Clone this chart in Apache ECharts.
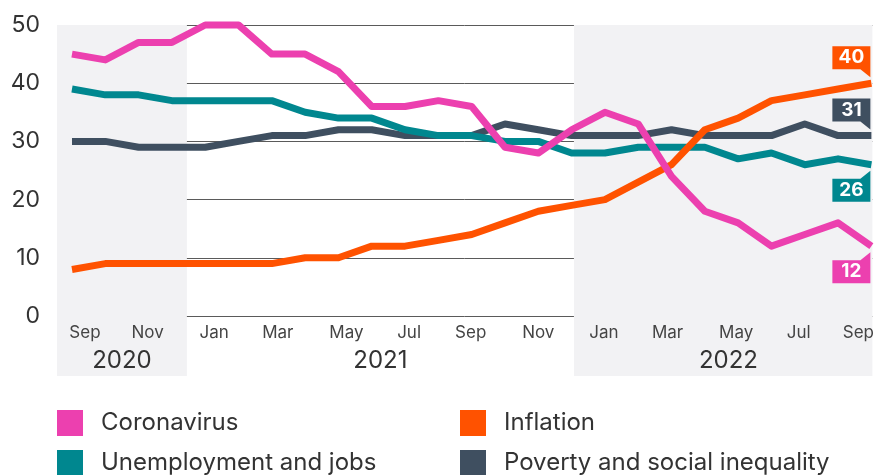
<!DOCTYPE html>
<html>
<head>
<meta charset="utf-8">
<script src="https://cdn.jsdelivr.net/npm/echarts@6/dist/echarts.min.js"></script>
<style>
  html, body { margin: 0; padding: 0; background: #ffffff; }
  #chart { width: 877px; height: 475px; }
</style>
</head>
<body>
<div id="chart"></div>
<script>
// Share of people naming each issue as a top worry, monthly survey waves
const coronavirus  = [45, 44, 47, 47, 50, 50, 45, 45, 42, 36, 36, 37, 36, 29, 28, 32, 35, 33, 24, 18, 16, 12, 14, 16, 12];
const inflation    = [8, 9, 9, 9, 9, 9, 9, 10, 10, 12, 12, 13, 14, 16, 18, 19, 20, 23, 26, 32, 34, 37, 38, 39, 40];
const unemployment = [39, 38, 38, 37, 37, 37, 37, 35, 34, 34, 32, 31, 31, 30, 30, 28, 28, 29, 29, 29, 27, 28, 26, 27, 26];
const poverty      = [30, 30, 29, 29, 29, 30, 31, 31, 32, 32, 31, 31, 31, 33, 32, 31, 31, 31, 32, 31, 31, 31, 33, 31, 31];

// Month ticks, in survey-wave units along the x axis
const monthLabels = ['Sep', 'Nov', 'Jan', 'Mar', 'May', 'Jul', 'Sep', 'Nov', 'Jan', 'Mar', 'May', 'Jul', 'Sep'];
const monthTickAt = [0.39, 2.27, 4.27, 6.18, 8.24, 10.12, 11.97, 14.0, 15.97, 17.88, 19.94, 21.82, 23.61];

// Calendar years and the waves they span (2020 and 2022 are shaded)
const yearLabels = ['2020', '2021', '2022'];
const yearSpans  = [[-0.45, 3.45], [3.45, 15.07], [15.07, 24.35]];
const shadedYears = [0, 2];

const yTicks = [0, 10, 20, 30, 40, 50];

const X_MIN = -0.45, X_MAX = 24.03;
// the value range runs below zero so the shaded year bands reach under the axis labels
const Y_MIN = -10.31, Y_MAX = 50;

const FONT = 'Inter, "Noto Sans", sans-serif';

const COLORS = {
  coronavirus: '#EC40AF',
  inflation: '#FF5200',
  unemployment: '#00878F',
  poverty: '#3F4F60'
};

const yearMid = yearSpans.map(s => (s[0] + s[1]) / 2);

function nearestLabel(value, positions, labels) {
  let best = 0;
  for (let i = 1; i < positions.length; i++) {
    if (Math.abs(positions[i] - value) < Math.abs(positions[best] - value)) best = i;
  }
  return labels[best];
}

// Callout shapes for the closing value: box with a small tail toward the line end
const CALLOUT_UP = 'path://M0,0 H38 V31 L28,23 H0 Z';
const CALLOUT_DOWN = 'path://M0,8 H28 L38,0 V31 H0 Z';

function endCallout(values, color, side) {
  const last = values.length - 1;
  const up = side === 'up';
  return {
    silent: true,
    animation: false,
    data: [{ coord: [last, values[last]], value: values[last] }],
    symbol: up ? CALLOUT_UP : CALLOUT_DOWN,
    symbolSize: [38, 31],
    symbolOffset: up ? [-20, -21.5] : [-20, 21.5],
    itemStyle: { color: color },
    label: {
      show: true,
      position: 'inside',
      offset: up ? [0, -4] : [0, 4],
      color: '#ffffff',
      fontFamily: FONT,
      fontWeight: 'bold',
      fontSize: 19,
      formatter: p => String(p.value)
    }
  };
}

function lineSeries(name, values, color, side, z) {
  return {
    name: name,
    type: 'line',
    z: z,
    data: values.map((v, i) => [i, v]),
    showSymbol: false,
    symbol: 'none',
    clip: false,
    animation: false,
    itemStyle: { color: color },
    lineStyle: { color: color, width: 7, join: 'round', cap: 'butt' },
    markPoint: endCallout(values, color, side)
  };
}

function legendItem(name, left, top) {
  return {
    left: left,
    top: top,
    padding: 0,
    icon: 'rect',
    itemWidth: 26,
    itemHeight: 26,
    selectedMode: false,
    data: [name],
    textStyle: { fontFamily: FONT, fontSize: 24, color: '#333333', padding: [0, 0, 0, 13] }
  };
}

const chart = echarts.init(document.getElementById('chart'), null, { renderer: 'canvas' });

chart.setOption({
  backgroundColor: '#ffffff',
  animation: false,
  grid: { left: 57, right: 0, top: 25, bottom: 99, containLabel: false },
  xAxis: [
    {
      // month names, drawn upward from the bottom of the band area
      type: 'value',
      z: 1,
      min: X_MIN,
      max: X_MAX,
      position: 'bottom',
      axisLine: { show: false, onZero: false },
      axisTick: { show: false },
      splitLine: { show: false },
      axisLabel: {
        inside: true,
        customValues: monthTickAt,
        margin: 35,
        fontFamily: FONT,
        fontSize: 17,
        color: '#444444',
        formatter: v => nearestLabel(v, monthTickAt, monthLabels)
      }
    },
    {
      // year names, centred in each year's span
      type: 'value',
      z: 1,
      min: X_MIN,
      max: X_MAX,
      position: 'bottom',
      axisLine: { show: false, onZero: false },
      axisTick: { show: false },
      splitLine: { show: false },
      axisLabel: {
        inside: true,
        customValues: yearMid,
        margin: 3,
        fontFamily: FONT,
        fontSize: 24,
        color: '#333333',
        formatter: v => nearestLabel(v, yearMid, yearLabels)
      }
    }
  ],
  yAxis: {
    type: 'value',
    z: 1,
    min: Y_MIN,
    max: Y_MAX,
    axisLine: { show: false },
    axisTick: { show: false, customValues: yTicks },
    axisLabel: {
      customValues: yTicks,
      margin: 17,
      fontFamily: FONT,
      fontSize: 23,
      color: '#333333'
    },
    splitLine: { show: true, lineStyle: { color: '#5a5a5a', width: 1 } }
  },
  legend: [
    legendItem('Coronavirus', 57, 410),
    legendItem('Unemployment and jobs', 57, 450),
    legendItem('Inflation', 460, 410),
    legendItem('Poverty and social inequality', 460, 450)
  ],
  series: [
    {
      // shaded year bands, kept beneath the grid lines and labels
      name: 'year bands',
      type: 'line',
      z: 0,
      data: [],
      silent: true,
      animation: false,
      markArea: {
        silent: true,
        animation: false,
        itemStyle: { color: '#F2F2F4' },
        data: shadedYears.map(k => [{ xAxis: yearSpans[k][0] }, { xAxis: yearSpans[k][1] }])
      }
    },
    lineSeries('Poverty and social inequality', poverty, COLORS.poverty, 'up', 2),
    lineSeries('Unemployment and jobs', unemployment, COLORS.unemployment, 'down', 3),
    lineSeries('Inflation', inflation, COLORS.inflation, 'up', 4),
    lineSeries('Coronavirus', coronavirus, COLORS.coronavirus, 'down', 5)
  ]
});
</script>
</body>
</html>
